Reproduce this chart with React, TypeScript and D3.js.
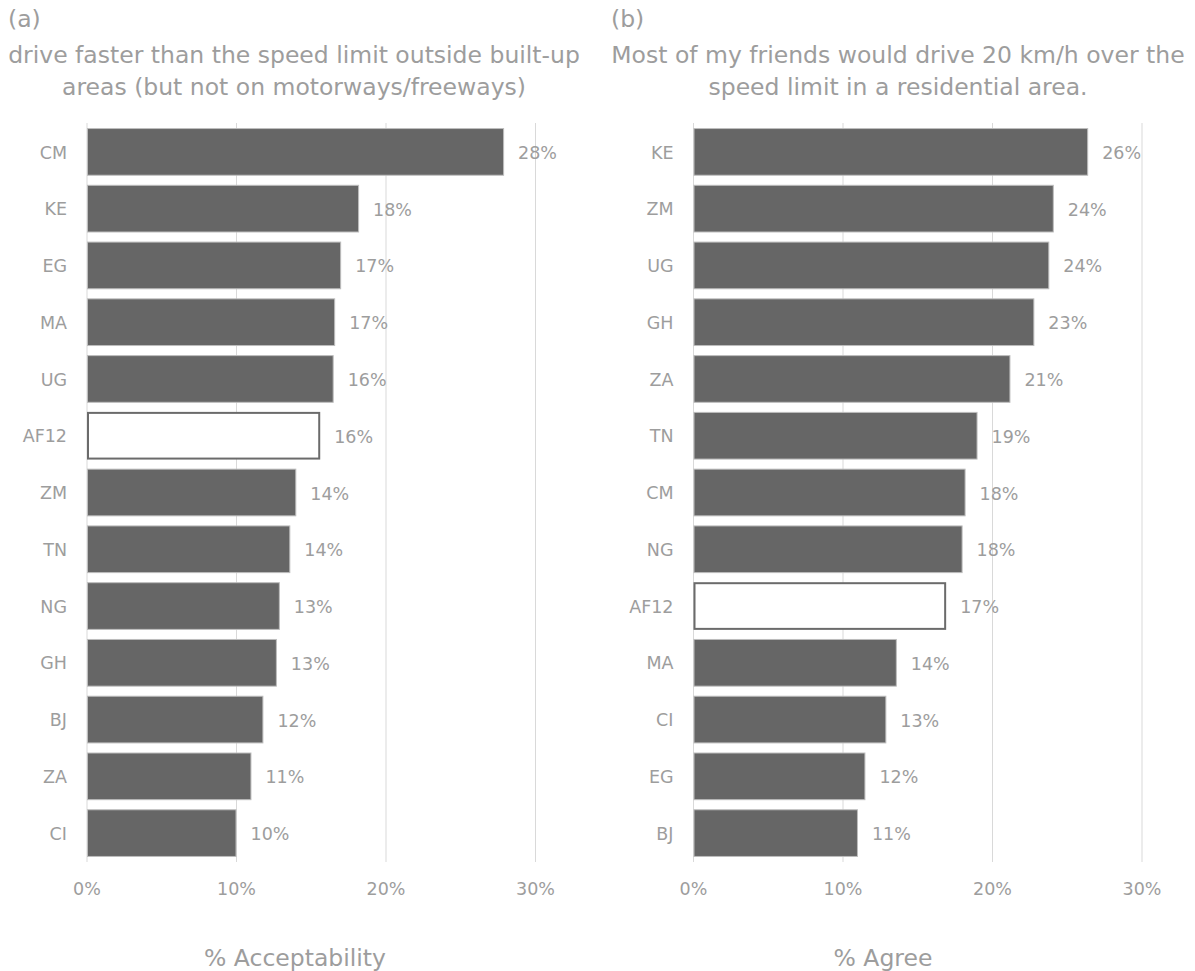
import React from "react";
import * as d3 from "d3";

const leftCategories = ["CM", "KE", "EG", "MA", "UG", "AF12", "ZM", "TN", "NG", "GH", "BJ", "ZA", "CI"];
const leftValues = [0.279, 0.182, 0.170, 0.166, 0.165, 0.156, 0.140, 0.136, 0.129, 0.127, 0.118, 0.110, 0.100];
const leftLabels = ["28%", "18%", "17%", "17%", "16%", "16%", "14%", "14%", "13%", "13%", "12%", "11%", "10%"];

const rightCategories = ["KE", "ZM", "UG", "GH", "ZA", "TN", "CM", "NG", "AF12", "MA", "CI", "EG", "BJ"];
const rightValues = [0.264, 0.241, 0.238, 0.228, 0.212, 0.190, 0.182, 0.180, 0.169, 0.136, 0.129, 0.115, 0.110];
const rightLabels = ["26%", "24%", "24%", "23%", "21%", "19%", "18%", "18%", "17%", "14%", "13%", "12%", "11%"];

const tickValues = [0, 0.1, 0.2, 0.3];
const highlight = "AF12";

const FONT = "'DejaVu Sans', Verdana, sans-serif";
const TEXT = "#9d9d9d";
const BAR = "#666666";
const GRID = "#d9d9d9";

type PanelProps = {
  letter: string;
  letterX: number;
  titleLines: string[];
  titleCx: number;
  axisTitle: string;
  axisTitleCx: number;
  x0: number;
  categories: string[];
  values: number[];
  labels: string[];
};

function Panel(p: PanelProps) {
  const x = d3.scaleLinear().domain([0, 0.3]).range([p.x0, p.x0 + 448.5]);
  const y = d3.scaleBand<string>().domain(p.categories).range([123.5, 861.5]).paddingInner(0.16).paddingOuter(0.08);
  const fmt = d3.format(".0%");
  return (
    <g fontFamily={FONT} fill={TEXT}>
      <text x={p.letterX} y={27} fontSize={23.5}>
        {p.letter}
      </text>
      {p.titleLines.map((t, i) => (
        <text key={i} x={p.titleCx} y={63 + i * 32} textAnchor="middle" fontSize={23.5}>
          {t}
        </text>
      ))}
      {tickValues.map((t) => (
        <g key={t}>
          <line x1={x(t)} x2={x(t)} y1={123} y2={862} stroke={GRID} strokeWidth={1} />
          <text x={x(t)} y={895} textAnchor="middle" fontSize={17.5}>
            {fmt(t)}
          </text>
        </g>
      ))}
      {p.categories.map((c, i) => {
        const yy = y(c)!;
        const h = y.bandwidth();
        const isH = c === highlight;
        return (
          <g key={c}>
            <rect
              x={x(0) + (isH ? 1 : 0.5)}
              y={yy + (isH ? 1 : 0.5)}
              width={x(p.values[i]) - x(0) - (isH ? 2 : 1)}
              height={h - (isH ? 2 : 1)}
              fill={isH ? "#ffffff" : BAR}
              stroke={isH ? "#6b6b6b" : "#bdbdbd"}
              strokeWidth={isH ? 2 : 1}
            />
            <text x={x(0) - 20} y={yy + h / 2} dy="0.38em" textAnchor="end" fontSize={17.5}>
              {c}
            </text>
            <text x={x(p.values[i]) + 14} y={yy + h / 2} dy="0.4em" fontSize={17.5}>
              {p.labels[i]}
            </text>
          </g>
        );
      })}
      <text x={p.axisTitleCx} y={966} textAnchor="middle" fontSize={23.5}>
        {p.axisTitle}
      </text>
    </g>
  );
}

export default function App() {
  return (
    <svg width={1195} height={971} style={{ position: "absolute", left: 0, top: 0, background: "#fff" }}>
      <rect width={1195} height={971} fill="#fff" />
      <Panel
        letter="(a)"
        letterX={8}
        titleLines={["drive faster than the speed limit outside built-up", "areas (but not on motorways/freeways)"]}
        titleCx={294}
        axisTitle="% Acceptability"
        axisTitleCx={295}
        x0={87}
        categories={leftCategories}
        values={leftValues}
        labels={leftLabels}
      />
      <Panel
        letter="(b)"
        letterX={611}
        titleLines={["Most of my friends would drive 20 km/h over the", "speed limit in a residential area."]}
        titleCx={898}
        axisTitle="% Agree"
        axisTitleCx={883}
        x0={693.5}
        categories={rightCategories}
        values={rightValues}
        labels={rightLabels}
      />
    </svg>
  );
}
